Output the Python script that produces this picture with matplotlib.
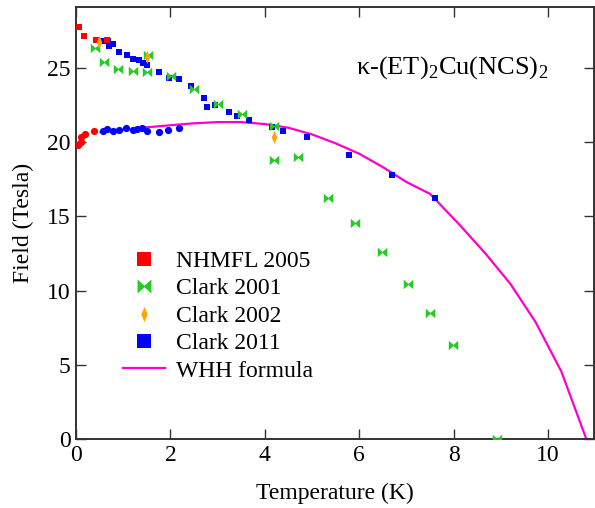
import numpy as np
import matplotlib
matplotlib.use('Agg')
import matplotlib.pyplot as plt
from matplotlib.path import Path
from matplotlib.lines import Line2D

plt.rcParams['font.family'] = ['Liberation Serif', 'DejaVu Serif']
plt.rcParams['mathtext.fontset'] = 'custom'
plt.rcParams['mathtext.rm'] = 'Liberation Serif'
plt.rcParams['font.size'] = 17

# Daten (Temperatur in K, Feld in Tesla)
nhmfl_sq_T = [0.07, 0.17, 0.42, 0.65]
nhmfl_sq_H = [27.7, 27.12, 26.85, 26.85]
nhmfl_c_T = [0.05, 0.1, 0.1, 0.19, 0.39]
nhmfl_c_H = [19.79, 20.01, 20.35, 20.51, 20.71]

clark01_T = [0.4, 0.6, 0.88, 1.21, 1.5, 1.52, 2.01, 2.5, 3.0, 3.51, 4.2, 4.2,
             4.71, 5.34, 5.9, 6.49, 7.03, 7.49, 7.99, 8.92]
clark01_H = [26.3, 25.4, 24.88, 24.79, 24.72, 25.84, 24.45, 23.54, 22.55, 21.88,
             21.05, 18.75, 18.96, 16.23, 14.57, 12.6, 10.46, 8.51, 6.34, 0.0]

clark02_T = [0.48, 1.5, 4.19]
clark02_H = [26.74, 25.73, 20.3]

clark11_sq_T = [0.57, 0.68, 0.70, 0.78, 0.91, 1.08, 1.21, 1.34, 1.42, 1.5, 1.76,
                1.97, 2.18, 2.44, 2.71, 2.78, 2.95, 3.24, 3.41, 3.67, 4.16, 4.39,
                4.89, 5.79, 6.7, 7.61]
clark11_sq_H = [26.79, 26.79, 26.45, 26.58, 26.05, 25.84, 25.57, 25.5, 25.3, 25.17,
                24.7, 24.3, 24.23, 23.76, 22.95, 22.35, 22.48, 22.01, 21.74, 21.47,
                21.0, 20.75, 20.3, 19.1, 17.8, 16.26]
clark11_c_T = [0.58, 0.66, 0.78, 0.92, 1.06, 1.2, 1.29, 1.4, 1.5, 1.75, 1.95, 2.19]
clark11_c_H = [20.75, 20.89, 20.71, 20.8, 20.92, 20.8, 20.85, 20.92, 20.73, 20.69,
               20.8, 20.95]

whh_T = [0.52, 1.0, 1.5, 2.0, 2.5, 3.0, 3.5, 4.0, 4.5, 5.0, 5.5, 6.0, 6.5, 7.0,
         7.5, 8.13, 8.67, 9.2, 9.73, 10.28, 10.81]
whh_H = [20.67, 20.82, 20.98, 21.12, 21.25, 21.33, 21.33, 21.2, 20.95, 20.5,
         19.9, 19.2, 18.3, 17.3, 16.5, 14.4, 12.5, 10.45, 7.9, 4.55, 0.0]

red = '#ff0000'
green = '#22cc22'
orange = '#ffa500'
blue = '#0000ff'
magenta = '#ff00cc'

# Fliegen-Marker und schmale Raute
w = 0.12
bowtie = Path([(-1, 1), (-1, -1), (0, -w), (1, -1), (1, 1), (0, w), (-1, 1)],
              [Path.MOVETO] + [Path.LINETO] * 5 + [Path.CLOSEPOLY])
raute = Path([(0, 1), (-0.42, 0), (0, -1), (0.42, 0), (0, 1)],
             [Path.MOVETO] + [Path.LINETO] * 3 + [Path.CLOSEPOLY])

fig = plt.figure(figsize=(5.95, 5.08), dpi=100)
ax = fig.add_axes([0.1277, 0.1352, 0.8706, 0.851])

ax.plot(whh_T, whh_H, color=magenta, lw=1.6, zorder=2)
ax.plot(clark11_sq_T, clark11_sq_H, 's', color=blue, ms=3.8, mew=0, zorder=3)
ax.plot(clark11_c_T, clark11_c_H, 'o', color=blue, ms=5.2, mew=0, zorder=3)
ax.plot(nhmfl_sq_T, nhmfl_sq_H, 's', color=red, ms=4.6, mew=0, zorder=3)
ax.plot(nhmfl_c_T, nhmfl_c_H, 'o', color=red, ms=5.2, mew=0, zorder=3)
ax.plot(clark01_T, clark01_H, ls='none', marker=bowtie, color=green, ms=6.8, mew=0, zorder=4)
ax.plot(clark02_T, clark02_H, ls='none', marker=raute, color=orange, ms=9.5, mew=0, zorder=5)

ax.set_xlim(0, 10.97)
ax.set_ylim(0, 29.07)
ax.set_xticks(np.arange(0, 11, 2))
ax.set_yticks(np.arange(0, 30, 5))
ax.tick_params(direction='in', top=True, right=True, length=7, width=1,
               color='#333333', pad=4)
for sp in ax.spines.values():
    sp.set_linewidth(1.4)
    sp.set_color('#333333')

ax.set_xlabel('Temperature (K)', labelpad=12)
ax.set_ylabel('Field (Tesla)', labelpad=9)

ax.text(0.540, 0.861, 'κ-(ET)$_2$Cu(NCS)$_2$', transform=ax.transAxes,
        ha='left', va='center', fontsize=19)

handles = [
    Line2D([], [], ls='none', marker='s', color=red, ms=10.5, mew=0),
    Line2D([], [], ls='none', marker=bowtie, color=green, ms=10, mew=0),
    Line2D([], [], ls='none', marker=raute, color=orange, ms=11, mew=0),
    Line2D([], [], ls='none', marker='s', color=blue, ms=10.5, mew=0),
    Line2D([], [], color=magenta, lw=1.6),
]
labels = ['NHMFL 2005', 'Clark 2001', 'Clark 2002', 'Clark 2011', 'WHH formula']
ax.legend(handles, labels, loc='upper left', bbox_to_anchor=(0.09, 0.437),
          frameon=False, borderpad=0, borderaxespad=0, handlelength=1.8,
          handletextpad=0.45, labelspacing=0.25, fontsize=17)

fig.savefig('out.png', dpi=100)
